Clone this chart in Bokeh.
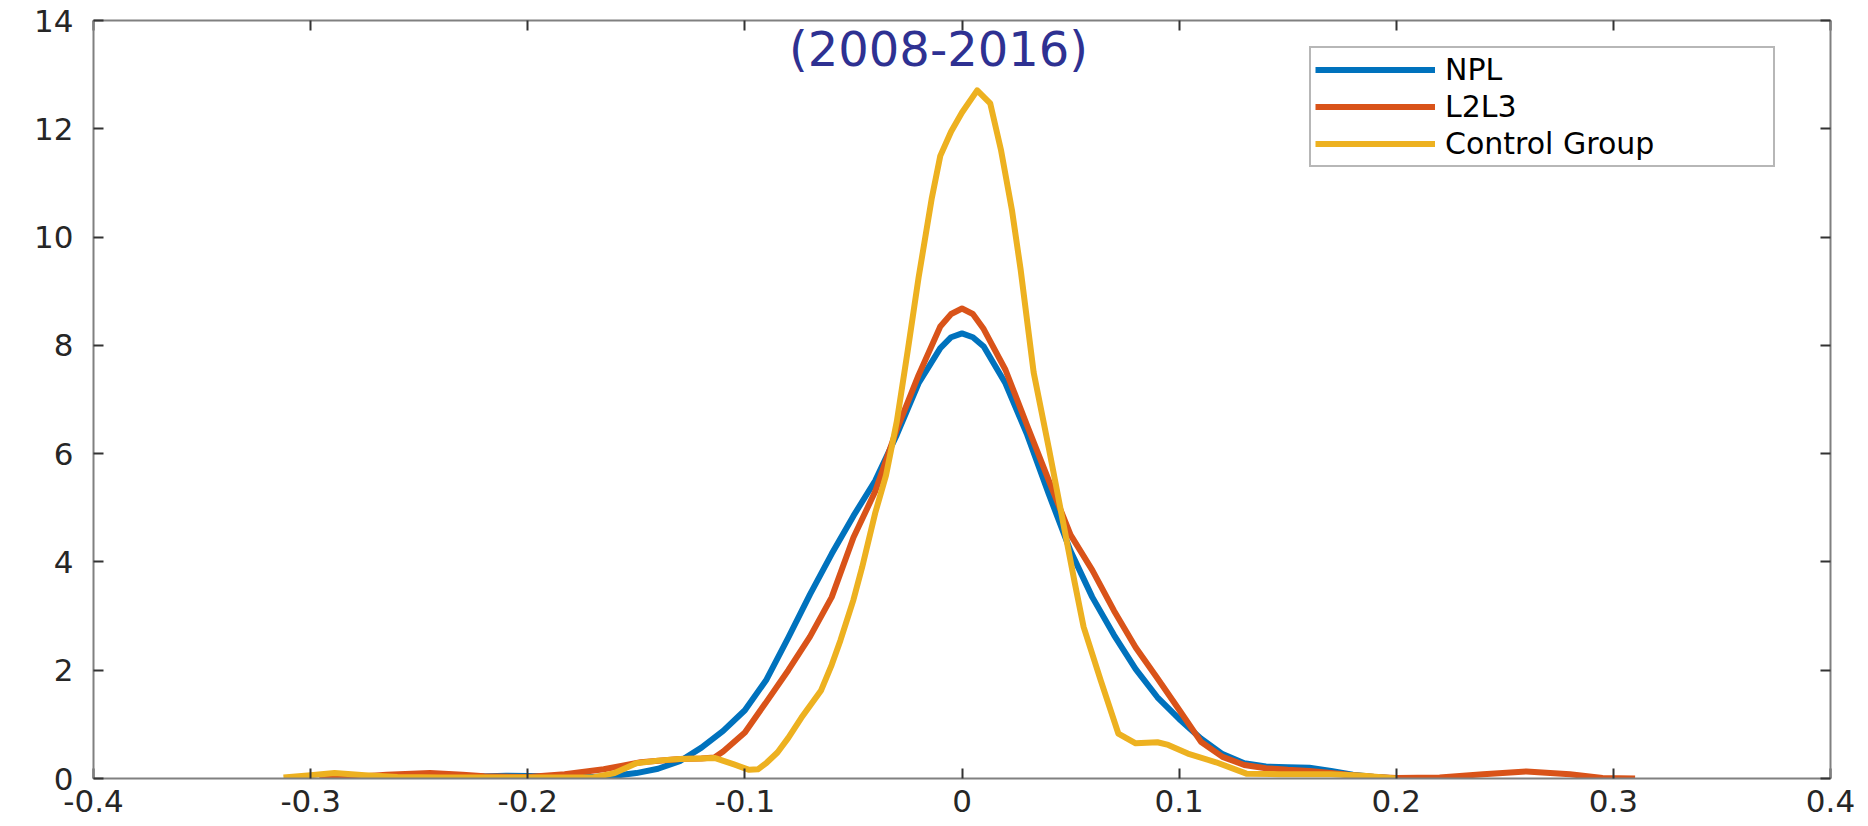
from bokeh.plotting import figure
from bokeh.models import FixedTicker, LinearAxis, Label, Legend, LegendItem, Range1d
from bokeh.embed import file_html
from bokeh.resources import INLINE

# ---------------- data ----------------
x_ticks = [-0.4, -0.3, -0.2, -0.1, 0.0, 0.1, 0.2, 0.3, 0.4]
x_tick_labels = ["-0.4", "-0.3", "-0.2", "-0.1", "0", "0.1", "0.2", "0.3", "0.4"]
y_ticks = [0, 2, 4, 6, 8, 10, 12, 14]
y_tick_labels = ["0", "2", "4", "6", "8", "10", "12", "14"]

subtitle = "(2008-2016)"
series_names = ["NPL", "L2L3", "Control Group"]

npl_x = [-0.29, -0.27, -0.25, -0.23, -0.21, -0.19, -0.17, -0.16, -0.15, -0.14,
         -0.13, -0.12, -0.11, -0.10, -0.09, -0.08, -0.07, -0.06, -0.05, -0.04,
         -0.03, -0.02, -0.01, -0.005, 0.0, 0.005, 0.01, 0.02, 0.03, 0.04,
         0.05, 0.06, 0.07, 0.08, 0.09, 0.10, 0.11, 0.12, 0.13, 0.14,
         0.15, 0.16, 0.17, 0.18, 0.19, 0.20]
npl_y = [0.0, 0.01, 0.02, 0.03, 0.05, 0.04, 0.03, 0.05, 0.10, 0.18,
         0.32, 0.57, 0.88, 1.26, 1.83, 2.60, 3.40, 4.15, 4.85, 5.50,
         6.35, 7.30, 7.95, 8.15, 8.22, 8.15, 7.98, 7.30, 6.35, 5.25,
         4.20, 3.35, 2.65, 2.02, 1.50, 1.10, 0.74, 0.45, 0.28, 0.22,
         0.21, 0.20, 0.14, 0.07, 0.03, 0.0]

l2l3_x = [-0.296, -0.28, -0.265, -0.245, -0.23, -0.22, -0.20, -0.183, -0.165, -0.148,
          -0.13, -0.12, -0.114, -0.11, -0.10, -0.09, -0.08, -0.07, -0.06, -0.05,
          -0.04, -0.03, -0.02, -0.01, -0.005, 0.0, 0.005, 0.01, 0.02, 0.03,
          0.04, 0.05, 0.06, 0.07, 0.08, 0.09, 0.10, 0.11, 0.12, 0.13,
          0.14, 0.15, 0.16, 0.17, 0.18, 0.19, 0.20, 0.22, 0.24, 0.26,
          0.28, 0.295, 0.31]
l2l3_y = [0.0, 0.03, 0.07, 0.10, 0.07, 0.04, 0.03, 0.08, 0.17, 0.30,
          0.36, 0.37, 0.39, 0.50, 0.85, 1.42, 2.00, 2.62, 3.35, 4.45,
          5.30, 6.45, 7.45, 8.35, 8.58, 8.68, 8.58, 8.30, 7.55, 6.52,
          5.50, 4.50, 3.85, 3.10, 2.42, 1.85, 1.27, 0.68, 0.40, 0.25,
          0.19, 0.16, 0.14, 0.10, 0.06, 0.03, 0.01, 0.02, 0.08, 0.13,
          0.08, 0.01, 0.0]

ctrl_x = [-0.3125, -0.30, -0.289, -0.275, -0.26, -0.24, -0.20, -0.17, -0.16, -0.15,
          -0.14, -0.13, -0.12, -0.114, -0.105, -0.098, -0.094, -0.09, -0.085, -0.08,
          -0.074, -0.065, -0.06, -0.056, -0.05, -0.046, -0.04, -0.035, -0.03, -0.025,
          -0.02, -0.014, -0.01, -0.005, 0.0, 0.007, 0.013, 0.018, 0.023, 0.027,
          0.033, 0.04, 0.046, 0.052, 0.056, 0.064, 0.072, 0.08, 0.09, 0.095,
          0.104, 0.117, 0.131, 0.146, 0.17, 0.185, 0.20]
ctrl_y = [0.02, 0.06, 0.10, 0.06, 0.03, 0.02, 0.02, 0.02, 0.10, 0.28,
          0.33, 0.36, 0.37, 0.38, 0.26, 0.16, 0.17, 0.29, 0.48, 0.75,
          1.12, 1.62, 2.10, 2.55, 3.30, 3.90, 4.90, 5.60, 6.60, 7.90,
          9.25, 10.70, 11.50, 11.95, 12.30, 12.71, 12.47, 11.60, 10.50, 9.40,
          7.50, 6.10, 4.85, 3.60, 2.80, 1.80, 0.83, 0.65, 0.67, 0.62,
          0.46, 0.30, 0.09, 0.08, 0.08, 0.05, 0.0]

colors = ["#0072BD", "#D95319", "#EDB120"]

# ---------------- figure ----------------
p = figure(width=1860, height=826,
           x_range=Range1d(-0.4, 0.4), y_range=Range1d(0, 14),
           output_backend="svg", toolbar_location=None,
           min_border_left=93, min_border_right=30,
           min_border_top=20, min_border_bottom=48)
p.grid.visible = False
p.outline_line_color = None
p.background_fill_color = "white"
p.border_fill_color = "white"

TICK_FONT = "DejaVu Sans"
AXIS_COLOR = "#808080"
TICK_COLOR = "#333333"


def style_axis(ax, show_labels):
    ax.axis_line_color = AXIS_COLOR
    ax.axis_line_width = 2
    ax.major_tick_line_color = TICK_COLOR
    ax.major_tick_line_width = 2
    ax.major_tick_in = 10
    ax.major_tick_out = 0
    ax.minor_tick_line_color = None
    if show_labels:
        ax.major_label_text_font = TICK_FONT
        ax.major_label_text_font_size = "31px"
        ax.major_label_text_color = "#262626"
    else:
        ax.major_label_text_font_size = "0px"
        ax.major_label_standoff = 0


p.xaxis.ticker = FixedTicker(ticks=x_ticks)
p.xaxis.major_label_overrides = dict(zip(x_ticks, x_tick_labels))
p.yaxis.ticker = FixedTicker(ticks=y_ticks)
p.yaxis.major_label_overrides = dict(zip(y_ticks, y_tick_labels))
style_axis(p.xaxis[0], True)
style_axis(p.yaxis[0], True)
p.xaxis.major_label_standoff = 11
p.yaxis.major_label_standoff = 20

top_axis = LinearAxis(ticker=FixedTicker(ticks=x_ticks),
                      major_label_overrides={t: "" for t in x_ticks})
style_axis(top_axis, False)
p.add_layout(top_axis, "above")
right_axis = LinearAxis(ticker=FixedTicker(ticks=y_ticks),
                        major_label_overrides={t: "" for t in y_ticks})
style_axis(right_axis, False)
p.add_layout(right_axis, "right")

r1 = p.line(npl_x, npl_y, line_color=colors[0], line_width=6, line_join="round")
r2 = p.line(l2l3_x, l2l3_y, line_color=colors[1], line_width=6, line_join="round")
r3 = p.line(ctrl_x, ctrl_y, line_color=colors[2], line_width=6, line_join="round")

legend = Legend(items=[LegendItem(label=series_names[0], renderers=[r1]),
                       LegendItem(label=series_names[1], renderers=[r2]),
                       LegendItem(label=series_names[2], renderers=[r3])],
                location=(1216, 611))
legend.label_text_font = TICK_FONT
legend.label_text_font_size = "30px"
legend.label_text_color = "#000000"
legend.glyph_width = 120
legend.glyph_height = 35
legend.label_height = 35
legend.label_width = 324
legend.label_standoff = 10
legend.spacing = 2
legend.padding = 4
legend.margin = 0
legend.border_line_color = "#707070"
legend.border_line_width = 2
legend.background_fill_color = "white"
legend.background_fill_alpha = 1.0
p.add_layout(legend)

p.add_layout(Label(x=-0.0108, y=13.48, text=subtitle,
                   text_align="center", text_baseline="middle",
                   text_font="DejaVu Sans", text_font_size="48px",
                   text_color="#2E3192"))

open("out.html", "w").write(file_html(p, INLINE))
